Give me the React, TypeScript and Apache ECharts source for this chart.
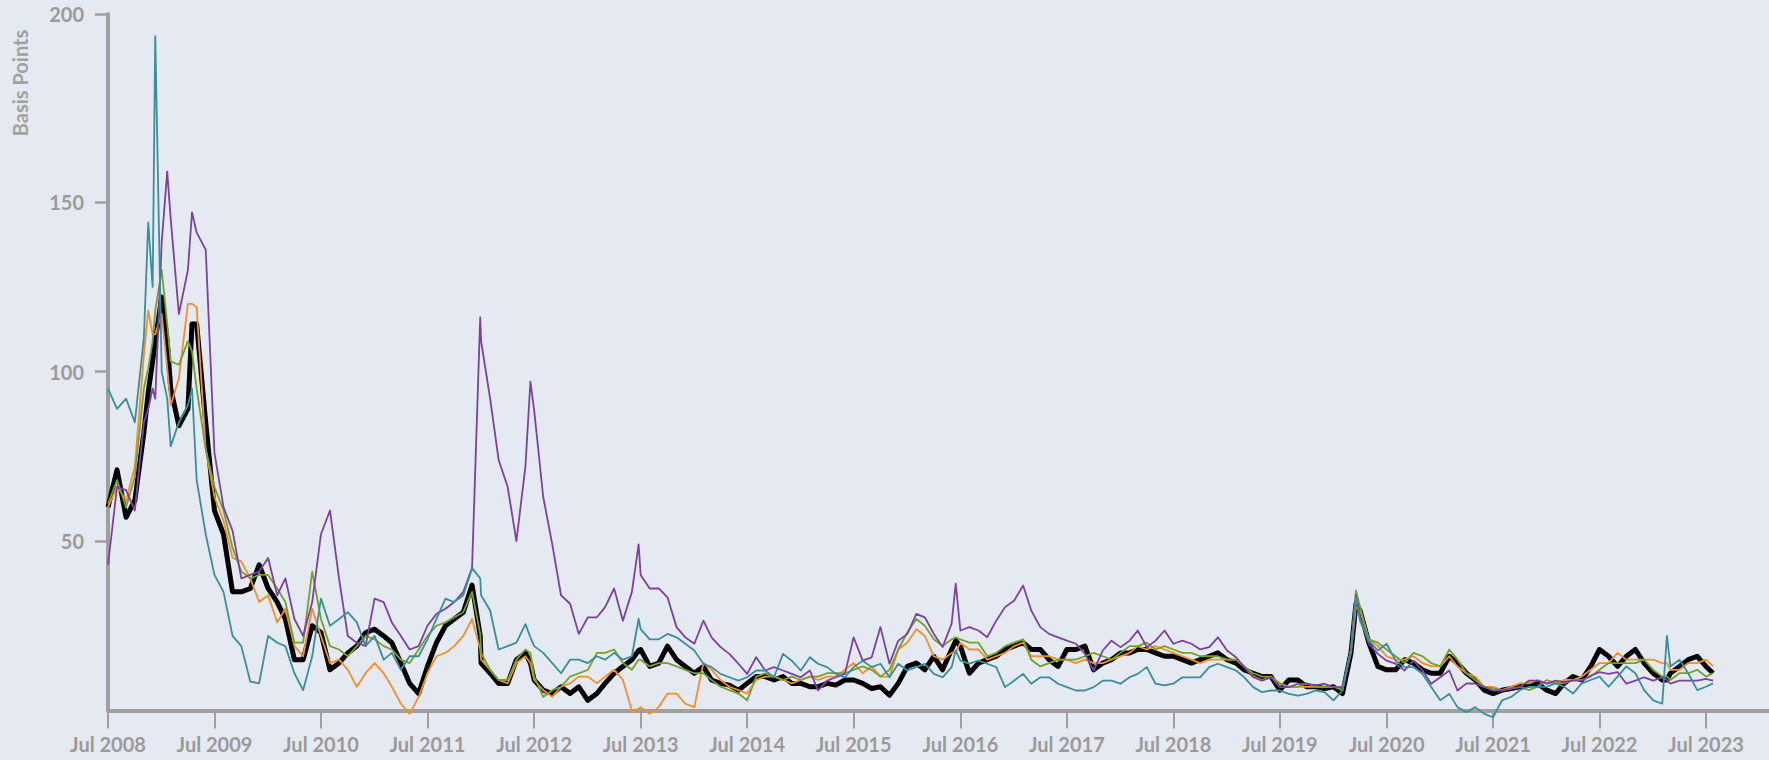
import React, { useEffect, useRef } from "react";
import * as echarts from "echarts";

// Monthly observations (1st of each month), Jul 2008 .. Jul 2023 (181 values each)
const BLACK_MONTHLY = [
  60, 71, 57, 62, 82, 103,
  122, 95, 84, 89, 114, 85, 59, 52, 35, 35, 36, 43,
  36, 32, 27, 15, 15, 25, 23, 12, 14, 17, 19, 23,
  24, 22, 20, 14, 8, 5, 13, 20, 25, 27, 29, 37,
  14, 11, 8, 8, 15, 17, 9, 6, 5, 7, 5, 7,
  3, 5, 8, 11, 13, 15, 18, 13, 14, 19, 15, 13,
  11, 13, 9, 8, 7.5, 6, 8, 10, 10, 9, 10, 8,
  8, 7, 7, 8, 7.5, 9, 9, 8, 6.5, 7, 4.5, 8,
  13, 14, 12, 16, 12, 18, 19, 11, 14, 15, 16, 18,
  19, 20, 18, 18, 15, 13, 18, 18, 19, 12, 14, 15,
  17, 17, 18, 18, 17, 16, 16, 15, 14, 15, 16, 17,
  15, 14, 12, 11, 10, 10, 6, 9, 9, 7, 7, 6.5,
  7, 5, 17, 29.5, 20, 13, 12, 12, 15, 14, 12, 11,
  11, 16, 14, 11, 9, 6, 5, 6, 6.5, 7, 7.5, 8,
  6, 5, 8, 10, 9, 13, 18, 16, 13, 16, 18, 14,
  11, 9, 11, 13, 15, 16, 13,
];
const ORANGE_MONTHLY = [
  60, 66, 62, 72, 105, 111,
  117, 90, 98, 120, 119, 77, 63, 56, 45, 44, 39, 32,
  34, 26, 30, 19, 16, 30, 22, 14, 15, 12, 7, 11,
  14, 11, 7, 2, -1, 4, 11, 16, 17, 19, 22, 27,
  15, 12, 9, 8, 14, 16, 9, 6, 4, 7, 8, 10,
  10, 8, 10, 12, 9, 0, 1, -1, 1, 5, 5, 2,
  1, 14, 12, 9, 7, 6, 5, 9, 10, 10, 9, 8,
  9, 10, 9, 10, 10, 12, 14, 11, 13, 10, 10, 18,
  20, 24, 22, 16, 15, 17, 20, 18, 18, 15, 16, 17,
  19, 20, 16, 16, 16, 15, 15, 14, 15, 14, 14, 15,
  16, 17, 19, 18, 19, 18, 17, 16, 15, 14, 15, 15,
  15, 15, 13, 10, 9, 10, 8, 7, 7, 7, 7, 7,
  7, 7, 17, 29.5, 21, 19, 16, 15, 15, 16, 14, 13,
  13, 16, 13, 11, 10, 7, 7, 6, 7, 8, 8, 9,
  8, 8, 9, 9, 10, 12, 14, 14, 17, 15, 15, 15,
  15, 14, 12, 12, 14, 14, 15,
];
const GREEN_MONTHLY = [
  61, 68, 60, 69, 95, 109,
  130, 103, 102, 109, 95, 77, 66, 59, 48, 41, 39, 40,
  40, 36, 32, 20, 20, 41, 27, 19, 18, 16, 19, 22,
  21, 19, 18, 15, 14, 18, 22, 25, 26, 27.5, 29, 35,
  17, 12, 9, 9, 15, 18, 10, 4, 6, 7, 10, 11,
  12, 17, 17, 18, 14, 12, 15, 13, 14, 14, 13, 12,
  11, 11, 9, 7, 6, 5, 3, 10, 11, 10, 9, 10,
  9, 10, 10, 11, 11, 11, 12, 13, 12, 10, 12, 18,
  23, 27, 25, 21, 19, 21, 21, 20, 20, 16, 17, 19,
  20, 21, 15, 13, 14, 15, 15, 15, 16, 17, 16, 15,
  17, 19, 19, 20, 18, 19, 18, 17, 17, 16, 16, 16,
  15, 15, 13, 11, 10, 10, 8, 7, 7, 8, 7, 7,
  7, 6, 18, 30.5, 21, 20, 18, 16, 14, 17, 16, 14,
  13, 18, 15, 11, 9, 7, 6.5, 6, 6.5, 7, 6, 7,
  9, 8, 8, 9, 9, 10, 12, 14, 14, 14, 14, 15,
  12, 10, 9, 11, 11, 12, 10,
];
const TEAL_MONTHLY = [
  95, 89, 92, 85, 110, 125,
  100, 78, 85, 90, 68, 52, 40, 35, 22, 19, 8.5, 8,
  22, 20, 19, 11, 6, 16, 33, 25, 27, 29, 26, 19,
  22, 15, 17, 12, 16, 16, 21, 27, 33, 32, 34, 42,
  34, 29.5, 18, 19, 20, 25.5, 19, 17, 14, 11, 15, 15,
  14, 16, 15, 17, 15, 16, 24, 21, 21, 22.6, 21.6, 19.7,
  17.7, 13.8, 12.8, 10.8, 9.8, 8.8, 9.8, 11.8, 11.8, 9.8, 16.7, 14.7,
  11.8, 15.7, 13.8, 12.8, 10.8, 9.8, 12.8, 14.7, 12.8, 13.8, 9.8, 13.8,
  11.8, 12.8, 13.8, 10.8, 9.8, 12.8, 14.7, 13.8, 14.7, 13.8, 12.8, 6.9,
  8.8, 10.8, 7.9, 9.8, 9.8, 7.9, 6.9, 5.9, 5.9, 6.9, 8.8, 8.8,
  7.9, 9.8, 10.8, 12.8, 7.9, 7.4, 7.9, 9.8, 9.8, 9.8, 12.8, 13.8,
  12.8, 11.8, 9.8, 6.9, 5.4, 5.9, 5.9, 4.9, 4.4, 4.9, 5.9, 5.4,
  3, 5.9, 18, 26.5, 20.6, 17.7, 19.7, 14.7, 12.8, 12.8, 10.8, 6.9,
  3, 4.9, 1, -0.5, 1, -1, -2, 3, 4, 6, 7, 7,
  7, 8, 7, 5, 8, 9, 10, 7, 10, 13, 11, 6,
  3, 2, 13, 15, 11, 6, 7,
];
const PURPLE_MONTHLY = [
  43, 66, 65, 59, 85, 95,
  138, 145, 117, 130, 141, 136, 76, 60, 53, 39, 40, 41,
  45, 34, 39, 27, 22, 32, 52, 59, 39, 22, 20, 19,
  33, 32, 26, 22, 18, 19, 25, 28.5, 30, 32, 35, 42,
  109, 92, 74, 66, 50, 72, 88.5, 63, 49, 34, 31.5, 22.6,
  27.5, 27.5, 30.5, 36, 26.5, 35, 40, 36, 36, 33.4, 24.6, 21.6,
  19.7, 26.5, 21.6, 18.7, 16.7, 13.8, 10.8, 15.7, 11.8, 12.8, 11.8, 10.8,
  9.8, 11.8, 5.9, 8.8, 9.8, 10.8, 21.6, 14.7, 15.7, 24.6, 13.8, 20.6,
  22.6, 28.5, 27.5, 22.6, 18.7, 25.6, 23.6, 24.6, 23.6, 21.6, 26.5, 30.5,
  32.4, 36.9, 29.5, 24.6, 22.6, 21.6, 20.6, 19.7, 16.7, 11.8, 17.7, 20.6,
  18.7, 20.6, 23.6, 18.7, 20.6, 23.6, 19.7, 20.6, 19.7, 18, 18.7, 21.6,
  17.7, 15.7, 12.8, 9.8, 8.8, 9.8, 6.9, 6.9, 7.9, 7.9, 7.4, 7.9,
  6.9, 6.9, 18, 27.5, 19.7, 16.7, 14.7, 13.8, 11.8, 14.7, 11.8, 7.9,
  9.8, 11.8, 5.9, 8, 7.9, 6.9, 5.9, 5.9, 6.4, 6.9, 8.8, 8.8,
  7.9, 8.8, 8.4, 8.8, 8.8, 10.3, 11.3, 10.8, 11.3, 7.9, 8.8, 9.8,
  8.8, 9.8, 7.9, 8.8, 8.8, 8.8, 9.3,
];

// Extra (mid-month) observations at spikes, plus the last observation
const EXTRA_DATES = ["2008-11-16", "2008-12-10", "2009-01-20", "2009-04-15", "2011-12-29", "2012-06-18", "2013-06-24", "2016-06-15", "2020-03-18", "2023-02-17", "2023-07-25"];
const EXTRA_BLACK = [94, 109, 109, 114, 22, 14, 17.7, 20.6, 31.5, 9, 11];
const EXTRA_ORANGE = [118, 111, 101, 120, 18, 14, 0.5, 17, 30.5, 14, 13];
const EXTRA_GREEN = [101, 118, 114, 106, 22.6, 17, 15, 21.6, 35.4, 10, 11];
const EXTRA_TEAL = [144, 199, 92, 95, 39, 21.6, 27, 17.7, 33.4, 22, 8];
const EXTRA_PURPLE = [89, 92, 159, 147, 116, 97, 49, 37.4, 34, 9, 8.8];

const TICK_YEARS = [2008, 2009, 2010, 2011, 2012, 2013, 2014, 2015, 2016, 2017, 2018, 2019, 2020, 2021, 2022, 2023];
const Y_TICKS = [50, 100, 150, 205.5];
const Y_TICK_LABELS = ["50", "100", "150", "200"];

const AXIS_COLOR = "#a19f9d";
const LABEL_COLOR = "#9c9a99";
const FONT = "Lato, 'Open Sans', sans-serif";

function buildSeries(monthly: number[], extra: number[]) {
  const pts: [number, number][] = [];
  monthly.forEach((v, i) => pts.push([Date.UTC(2008, 6 + i, 1), v]));
  EXTRA_DATES.forEach((d, i) => pts.push([Date.parse(d + "T00:00:00Z"), extra[i]]));
  pts.sort((a, b) => a[0] - b[0]);
  return pts;
}

export default function App() {
  const ref = useRef<HTMLDivElement>(null);
  useEffect(() => {
    document.body.style.margin = "0";
    const chart = echarts.init(ref.current!, undefined, { renderer: "svg" });
    const tickTimes = TICK_YEARS.map((y) => Date.UTC(y, 6, 1));
    const mk = (name: string, color: string, width: number, monthly: number[], extra: number[]) => ({
      name,
      type: "line",
      showSymbol: false,
      symbol: "none",
      clip: false,
      silent: true,
      lineStyle: { color, width, join: "round" },
      data: buildSeries(monthly, extra),
    });
    chart.setOption({
      animation: false,
      backgroundColor: "#e5e9f2",
      grid: { left: 108, right: 0, top: 14, bottom: 49.5, containLabel: false },
      xAxis: {
        type: "value",
        min: Date.UTC(2008, 6, 1),
        max: Date.UTC(2024, 1, 2),
        axisLine: { show: true, lineStyle: { color: AXIS_COLOR, width: 4 } },
        axisTick: { show: true, length: 18, customValues: tickTimes, lineStyle: { color: AXIS_COLOR, width: 2 } },
        axisLabel: {
          customValues: tickTimes,
          formatter: (v: number) => "Jul " + new Date(v).getUTCFullYear(),
          color: LABEL_COLOR,
          fontSize: 20,
          fontWeight: "bold",
          fontFamily: FONT,
          margin: 23,
        },
        splitLine: { show: false },
      },
      yAxis: {
        type: "value",
        min: 0,
        max: 205.5,
        axisLine: { show: true, lineStyle: { color: AXIS_COLOR, width: 4 } },
        axisTick: { show: true, length: 13, customValues: Y_TICKS, lineStyle: { color: AXIS_COLOR, width: 2.5 } },
        axisLabel: {
          customValues: Y_TICKS,
          formatter: (v: number) => {
            const i = Y_TICKS.indexOf(v);
            return i >= 0 ? Y_TICK_LABELS[i] : "";
          },
          color: LABEL_COLOR,
          fontSize: 20,
          fontWeight: "bold",
          fontFamily: FONT,
          margin: 24,
        },
        splitLine: { show: false },
      },
      graphic: [
        {
          type: "text",
          x: 20,
          y: 83,
          rotation: Math.PI / 2,
          style: {
            text: "Basis Points",
            fill: "#a3a1a0",
            font: "bold 20px " + FONT,
            align: "center",
            verticalAlign: "middle",
            textAlign: "center",
            textVerticalAlign: "middle",
          },
        },
      ],
      series: [
        mk("Black", "#000000", 5, BLACK_MONTHLY, EXTRA_BLACK),
        mk("Orange", "#f28f2c", 1.8, ORANGE_MONTHLY, EXTRA_ORANGE),
        mk("Green", "#74a02c", 1.8, GREEN_MONTHLY, EXTRA_GREEN),
        mk("Purple", "#7c41a1", 1.8, PURPLE_MONTHLY, EXTRA_PURPLE),
        mk("Teal", "#3a8e9a", 1.8, TEAL_MONTHLY, EXTRA_TEAL),
      ],
    });
    return () => chart.dispose();
  }, []);
  return <div ref={ref} style={{ position: "absolute", left: 0, top: 0, width: 1769, height: 760 }} />;
}
